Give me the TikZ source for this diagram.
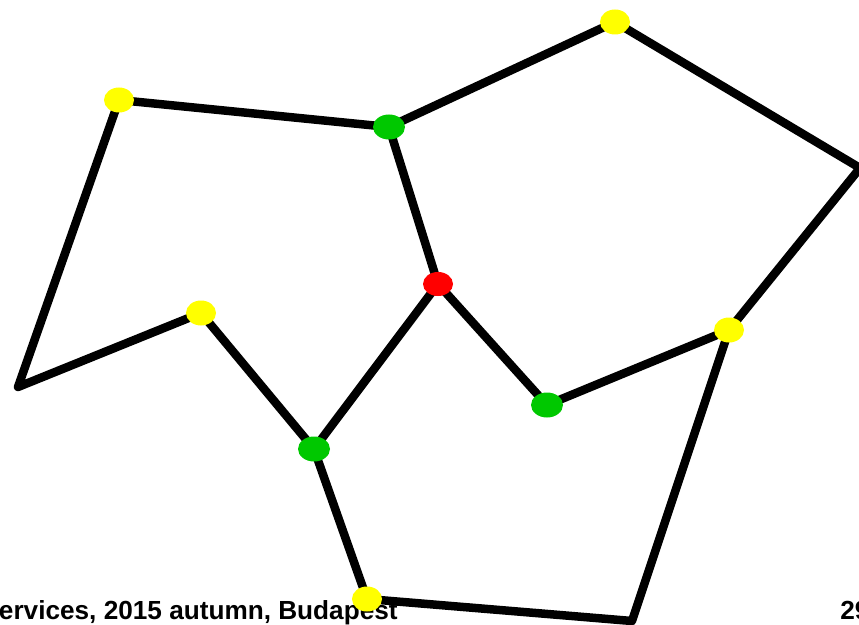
\documentclass[tikz,border=0pt]{standalone}
\usepackage{fontspec}
\setsansfont{Liberation Sans}
\usepackage{tikz}
\usetikzlibrary{shapes.geometric}
\definecolor{hubred}{HTML}{FF0000}
\definecolor{midgreen}{HTML}{00C800}
\definecolor{leafyellow}{HTML}{FFFF00}
\tikzset{
  dot/.style={ellipse,inner sep=0pt,minimum width=0.6cm,minimum height=0.5cm},
  link/.style={line width=0.17cm,line cap=round,line join=round},
  foot/.style={font=\sffamily\bfseries\fontsize{14.9}{17}\selectfont}
}

\begin{document}
\begin{tikzpicture}[x=0.02cm,y=-0.02cm]
  \useasboundingbox (0,0) rectangle (859,625);
  % footer of the slide
  \node[foot,anchor=base east,inner sep=0pt] (foottext) at (398,619) {ervices, 2015 autumn, Budapest};
  \node[foot,anchor=base west,inner sep=0pt] (pagenum) at (840,619) {29};
  % free corners
  \coordinate (cleft) at (18,387);
  \coordinate (cright) at (860,168);
  \coordinate (cbottom) at (632,621);
  % vertices
  \node[dot] (y1) at (119,100) {};
  \node[dot] (y2) at (615,22) {};
  \node[dot] (y3) at (729,330) {};
  \node[dot] (y4) at (201,313) {};
  \node[dot] (y5) at (367,599) {};
  \node[dot] (g1) at (389,127) {};
  \node[dot] (g2) at (547,405) {};
  \node[dot] (g3) at (314,449) {};
  \node[dot] (r) at (438,284) {};
  % edges
  \draw[link] (y1.center) -- (g1.center) -- (y2.center) -- (cright) -- (y3.center) -- (cbottom) -- (y5.center) -- (g3.center) -- (y4.center) -- (cleft) -- cycle;
  \draw[link] (g1.center) -- (r.center) -- (g2.center) -- (y3.center);
  \draw[link] (r.center) -- (g3.center);
  % fill dots on top
  \foreach \v in {y1,y2,y3,y4,y5}
    \fill[leafyellow] (\v.center) ellipse[x radius=15,y radius=12.5];
  \foreach \v in {g1,g2,g3}
    \fill[midgreen] (\v.center) ellipse[x radius=16,y radius=12.5];
  \fill[hubred] (r.center) ellipse[x radius=15,y radius=12];
\end{tikzpicture}
\end{document}
